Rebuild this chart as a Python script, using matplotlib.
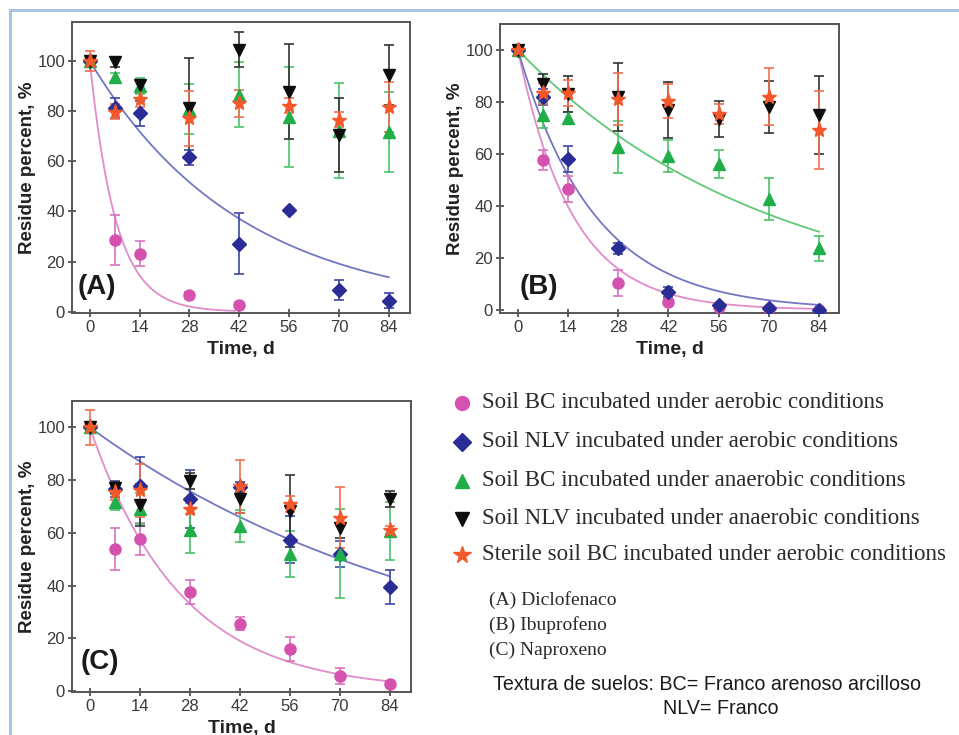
import numpy as np
import matplotlib
matplotlib.use("Agg")
import matplotlib.pyplot as plt
from matplotlib.lines import Line2D
from matplotlib.patches import Rectangle

# ---------------- data ----------------
days = [0, 7, 14, 28, 42, 56, 70, 84]
days_A_bc_aer = [0, 7, 14, 28, 42]

# (A) Diclofenaco
A_bc_aer = [100, 28.7, 23.1, 6.5, 2.8]
A_bc_aer_err = [1, 10, 5, 1.5, 1]
A_nlv_aer = [100, 81.1, 79.2, 61.6, 27.2, 40.5, 8.5, 4.4]
A_nlv_aer_err = [1.5, 4, 5, 3, 12, 0.5, 4, 3]
A_bc_ana = [100, 93.5, 90, 81, 86.5, 77.6, 72.2, 71.6]
A_bc_ana_err = [1.5, 1.5, 3, 10, 13, 20, 19, 16]
A_nlv_ana = [100, 99.5, 90.4, 81.1, 104.4, 87.8, 70.5, 94.4]
A_nlv_ana_err = [2, 2, 2, 20, 7, 19, 14.6, 12]
A_ster = [100, 79.8, 84.7, 77.2, 83.1, 82.1, 76.5, 81.5]
A_ster_err = [4, 3, 3, 11, 5.5, 3, 3, 10]
A_fit_k = {"bc_aer": 0.138, "nlv_aer": 0.0236}
A_fit_end = {"bc_aer": 41, "nlv_aer": 84}

# (B) Ibuprofeno
B_bc_aer = [100, 57.7, 46.5, 10.3, 3.2, 1, 0.5, 0]
B_bc_aer_err = [1.5, 4, 5, 5, 1, 0.5, 0.5, 0.3]
B_nlv_aer = [100, 82, 58.1, 23.7, 6.8, 1.7, 0.8, 0]
B_nlv_aer_err = [1.5, 3, 5, 2, 2, 0.5, 0.5, 0.5]
B_bc_ana = [100, 75, 74, 62.8, 59.2, 56.2, 42.6, 23.7]
B_bc_ana_err = [1.5, 5, 2, 10, 6, 5.5, 8, 4.7]
B_nlv_ana = [100, 86.8, 83, 82, 76.9, 73.5, 78, 75]
B_nlv_ana_err = [1.5, 4, 7, 13, 10.7, 7, 10, 15]
B_ster = [100, 83.3, 83.3, 81.2, 80.4, 75.4, 82, 69.2]
B_ster_err = [2, 4, 5, 10, 6.5, 4, 11, 15]
B_fit_k = {"bc_aer": 0.066, "nlv_aer": 0.047, "bc_ana": 0.0143}

# (C) Naproxeno
C_bc_aer = [100, 54, 57.6, 37.6, 25.5, 15.8, 5.8, 2.5]
C_bc_aer_err = [1.5, 8, 6, 4.5, 2.5, 4.5, 3, 1]
C_nlv_aer = [100, 76.5, 77.7, 72.7, 77.4, 57.4, 51.9, 39.3]
C_nlv_aer_err = [1.5, 3, 11, 11, 2, 9, 5, 6.5]
C_bc_ana = [100, 71.7, 69.2, 61, 62.6, 52.1, 52.1, 60.7]
C_bc_ana_err = [1.5, 3, 6, 8.5, 6, 8.7, 17, 11]
C_nlv_ana = [100, 77.1, 70.7, 79.5, 72.7, 68.2, 61.9, 72.7]
C_nlv_ana_err = [1.5, 2, 8, 3, 5, 13.6, 4, 3]
C_ster = [100, 75.3, 76.1, 69.2, 77.7, 70.8, 65.8, 61]
C_ster_err = [6.7, 3, 10, 2, 10, 3, 11.6, 1.5]
C_fit_k = {"bc_aer": 0.0395, "nlv_aer": 0.0099}

xticks = [0, 14, 28, 42, 56, 70, 84]
yticks = [0, 20, 40, 60, 80, 100]

legend_labels = [
    "Soil BC incubated under aerobic conditions",
    "Soil NLV incubated under aerobic conditions",
    "Soil BC incubated under anaerobic conditions",
    "Soil NLV incubated under anaerobic conditions",
    "Sterile soil BC incubated under aerobic conditions",
]
compound_labels = ["(A) Diclofenaco", "(B) Ibuprofeno", "(C) Naproxeno"]
texture_lines = ["Textura de suelos: BC= Franco arenoso arcilloso", "NLV= Franco"]

# ---------------- styles ----------------
STY = {
    "bc_aer": dict(marker="o", color="#d452ad", ecolor="#d873bd", ms=8, curve="#e08cca", lms=10),
    "nlv_aer": dict(marker="D", color="#2a2d96", ecolor="#3f44a8", ms=7.5, curve="#7277c2", lms=9.5),
    "bc_ana": dict(marker="^", color="#1fae48", ecolor="#4cc26a", ms=8, curve="#62c878", lms=10),
    "nlv_ana": dict(marker="v", color="#0d0d0d", ecolor="#333333", ms=8, curve="#333333", lms=10),
    "ster": dict(marker="*", color="#f2582a", ecolor="#f07050", ms=11, curve="#f2582a", lms=13),
}

SANS = "Liberation Sans"
SERIF = "Liberation Serif"

fig = plt.figure(figsize=(9.59, 7.35), dpi=100)
fig.patch.set_facecolor("white")

# light blue frame
fig.add_artist(Rectangle((9.5 / 959, -0.05), 1.2, 1 - 10.5 / 735 + 0.05,
                         transform=fig.transFigure, fill=False,
                         edgecolor="#a9c3e3", linewidth=2.2))


def draw_panel(ax, series, fits, letter, ylim, letter_xy, xlim=(-5, 90), fit_end=None):
    # fitted first-order decay curves
    t = np.linspace(0, 84, 300)
    for key, k in fits.items():
        end = 84 if fit_end is None else fit_end.get(key, 84)
        tt = t[t <= end]
        ax.plot(tt, 100 * np.exp(-k * tt), color=STY[key]["curve"], lw=1.3, zorder=2)
    for key, (x, y, e) in series.items():
        s = STY[key]
        ax.errorbar(x, y, yerr=e, fmt=s["marker"], color=s["color"], ecolor=s["ecolor"],
                    ms=s["ms"], mec=s["color"], elinewidth=1.2, capsize=3.5,
                    capthick=1.2, zorder=3)
    ax.set_xlim(*xlim)
    ax.set_ylim(*ylim)
    ax.set_xticks(xticks)
    ax.set_yticks(yticks)
    ax.tick_params(direction="inout", length=6, width=1.2, color="#444444",
                   labelsize=12, labelcolor="#3a3a3a", pad=2)
    for lab in ax.get_xticklabels() + ax.get_yticklabels():
        lab.set_family(SANS)
    for sp in ax.spines.values():
        sp.set_color("#555555")
        sp.set_linewidth(1.4)
    ax.set_xlabel("Time, d", fontsize=14, fontweight="bold", family=SANS,
                  color="#222222", labelpad=4)
    ax.set_ylabel("Residue percent, %", fontsize=13.5, fontweight="bold", family=SANS,
                  color="#222222", labelpad=1)
    ax.text(letter_xy[0], letter_xy[1], letter, fontsize=20, fontweight="bold",
            family=SANS, color="#1a1a1a", ha="left", va="center")


axA = fig.add_axes([0.0751, 0.5741, 0.3525, 0.3959])
draw_panel(axA, {
    "bc_aer": (days_A_bc_aer, A_bc_aer, A_bc_aer_err),
    "nlv_aer": (days, A_nlv_aer, A_nlv_aer_err),
    "bc_ana": (days, A_bc_ana, A_bc_ana_err),
    "nlv_ana": (days, A_nlv_ana, A_nlv_ana_err),
    "ster": (days, A_ster, A_ster_err),
}, A_fit_k, "(A)", (-0.5, 115.5), (-3.3, 10), fit_end=A_fit_end)

axB = fig.add_axes([0.5214, 0.5741, 0.3535, 0.3932])
draw_panel(axB, {
    "bc_aer": (days, B_bc_aer, B_bc_aer_err),
    "nlv_aer": (days, B_nlv_aer, B_nlv_aer_err),
    "bc_ana": (days, B_bc_ana, B_bc_ana_err),
    "nlv_ana": (days, B_nlv_ana, B_nlv_ana_err),
    "ster": (days, B_ster, B_ster_err),
}, B_fit_k, "(B)", (-1.2, 110), (0.4, 9), xlim=(-5, 89.6))

axC = fig.add_axes([0.0751, 0.0585, 0.3535, 0.3959])
draw_panel(axC, {
    "bc_aer": (days, C_bc_aer, C_bc_aer_err),
    "nlv_aer": (days, C_nlv_aer, C_nlv_aer_err),
    "bc_ana": (days, C_bc_ana, C_bc_ana_err),
    "nlv_ana": (days, C_nlv_ana, C_nlv_ana_err),
    "ster": (days, C_ster, C_ster_err),
}, C_fit_k, "(C)", (-0.4, 110), (-2.6, 11))

# ---------------- legend ----------------
W, H = 959.0, 735.0
keys = ["bc_aer", "nlv_aer", "bc_ana", "nlv_ana", "ster"]
row_y = [403, 442, 481, 519, 555]
for key, lab, yy in zip(keys, legend_labels, row_y):
    s = STY[key]
    fig.add_artist(Line2D([462 / W], [1 - yy / H], marker=s["marker"], color=s["color"],
                          ms=s["lms"], mec=s["color"], linestyle="none",
                          transform=fig.transFigure))
    fig.text(482 / W, 1 - yy / H, lab, fontsize=16.6, family=SERIF, color="#2a2a2a",
             ha="left", va="center")

for lab, yy in zip(compound_labels, [600, 625, 650]):
    fig.text(489 / W, 1 - yy / H, lab, fontsize=14, family=SERIF, color="#2a2a2a",
             ha="left", va="center")

fig.text(493 / W, 1 - 685 / H, texture_lines[0], fontsize=14.2, family=SANS,
         color="#1a1a1a", ha="left", va="center")
fig.text(663 / W, 1 - 709 / H, texture_lines[1], fontsize=14.2, family=SANS,
         color="#1a1a1a", ha="left", va="center")

fig.savefig("out.png", dpi=100, facecolor="white")
